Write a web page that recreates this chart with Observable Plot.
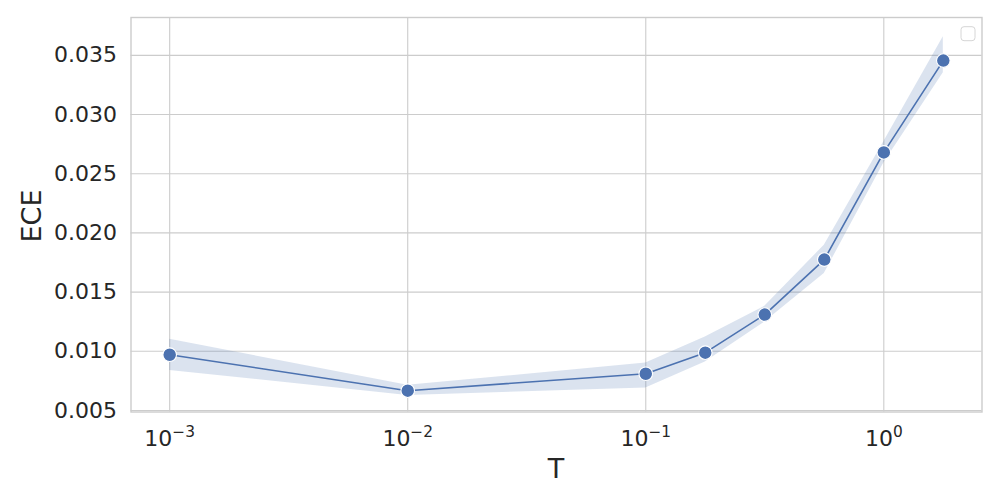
<!DOCTYPE html>
<html>
<head>
<meta charset="utf-8">
<script src="https://cdn.jsdelivr.net/npm/d3@7"></script>
<script src="https://cdn.jsdelivr.net/npm/@observablehq/plot@0.6"></script>
<style>
  html, body { margin: 0; padding: 0; background: #fff; }
  #chart { position: relative; width: 1000px; height: 500px; }
</style>
</head>
<body>
<div id="chart"></div>
<script>
// Temperature values (x, log scale)
const T = [0.001, 0.01, 0.1, 0.1778, 0.3162, 0.5623, 1, 1.7783];
// Mean ECE
const ece = [0.00971, 0.00667, 0.00810, 0.00988, 0.01310, 0.01775, 0.02680, 0.03456];
// Confidence band lower / upper
const eceLow = [0.00838, 0.00627, 0.00690, 0.00909, 0.01247, 0.01657, 0.02590, 0.03354];
const eceHigh = [0.01101, 0.00712, 0.00900, 0.01120, 0.01380, 0.01896, 0.02770, 0.03658];
// Tick values
const xTicks = [0.001, 0.01, 0.1, 1];
const xTickExp = ["−3", "−2", "−1", "0"];
const yTicks = [0.005, 0.010, 0.015, 0.020, 0.025, 0.030, 0.035];

const data = T.map((t, i) => ({T: t, ece: ece[i], lo: eceLow[i], hi: eceHigh[i]}));

const blue = "#4c72b0";
const grid = "#cccccc";
const textColor = "#262626";

const plot = Plot.plot({
  width: 1000,
  height: 500,
  marginLeft: 130.5,
  marginRight: 18.5,
  marginTop: 17,
  marginBottom: 88.5,
  style: {fontFamily: "DejaVu Sans", color: textColor, background: "#fff"},
  x: {type: "log", domain: [Math.pow(10, -3.1625), Math.pow(10, 0.4125)]},
  y: {domain: [0.00487, 0.0382]},
  marks: [
    Plot.gridX(xTicks, {stroke: grid, strokeOpacity: 1, strokeWidth: 1.1}),
    Plot.gridY(yTicks, {stroke: grid, strokeOpacity: 1, strokeWidth: 1.1}),
    Plot.frame({stroke: grid, strokeWidth: 1.4}),
    Plot.areaY(data, {x: "T", y1: "lo", y2: "hi", fill: blue, fillOpacity: 0.2}),
    Plot.line(data, {x: "T", y: "ece", stroke: blue, strokeWidth: 1.6}),
    Plot.dot(data, {x: "T", y: "ece", r: 6.8, fill: blue, stroke: "white", strokeWidth: 1.1}),
    Plot.axisX(xTicks, {
      tickSize: 0, tickPadding: 18, fontSize: 22, label: null,
      tickFormat: (d, i) => xTickExp[xTicks.indexOf(d)]
    }),
    Plot.axisY(yTicks, {
      tickSize: 0, tickPadding: 14, fontSize: 22, label: null,
      tickFormat: d => d.toFixed(3)
    })
  ]
});

document.getElementById("chart").appendChild(plot);

const svg = d3.select(plot);
// Convert x tick labels to 10^n with superscripts
svg.selectAll('g[aria-label="x-axis tick label"] text').each(function() {
  const t = d3.select(this);
  const exp = t.text();
  t.text(null);
  t.append("tspan").text("10");
  t.append("tspan").attr("font-size", "15.4px").attr("dy", "-8.3").text(exp);
});

// Axis labels
svg.append("text")
  .attr("x", 556).attr("y", 477.5)
  .attr("text-anchor", "middle")
  .attr("font-size", "27px").attr("fill", textColor)
  .text("T");
svg.append("text")
  .attr("transform", "translate(41,216) rotate(-90)")
  .attr("text-anchor", "middle")
  .attr("font-size", "27px").attr("fill", textColor)
  .text("ECE");

// Empty legend box
svg.append("rect")
  .attr("x", 961).attr("y", 26.7).attr("width", 14).attr("height", 14)
  .attr("rx", 3).attr("fill", "white").attr("stroke", "#d6d6d6").attr("stroke-width", 1);
</script>
</body>
</html>
